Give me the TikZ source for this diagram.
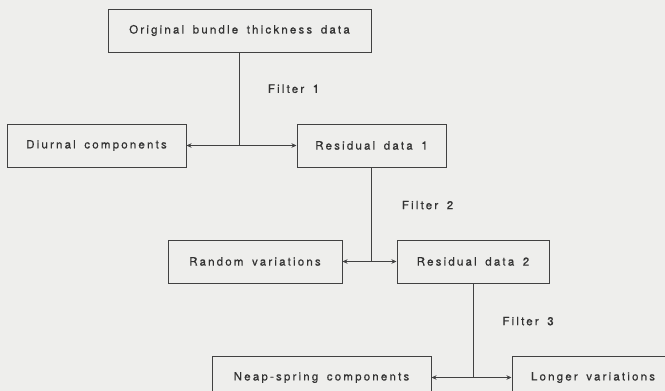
\documentclass[tikz,border=0pt]{standalone}
\usepackage{fontspec}
\newfontfamily\scanfont[LetterSpace=19, WordSpace=1.6, FakeBold=0.6]{TeX Gyre Heros}
\definecolor{InkGray}{RGB}{50, 50, 50}
\definecolor{LineGray}{RGB}{65, 65, 65}
\definecolor{PaperGray}{RGB}{238, 238, 236}
\usepackage{tikz}
\usetikzlibrary{arrows.meta, positioning}
\tikzset{
  box/.style={rectangle, draw=LineGray, line width=1pt, fill=PaperGray,
              minimum height=43pt, font=\fontsize{11.5}{13}\scanfont,
              text=InkGray, align=center},
  arr/.style={-{Stealth[length=5pt, width=4.5pt]}, line width=0.8pt, color=LineGray},
  lbl/.style={font=\fontsize{11.5}{13}\scanfont, text=InkGray, inner sep=1pt},
}
\begin{document}
\begin{tikzpicture}[x=1pt, y=1pt]

  %% page
  \clip (0,0) rectangle (665,-391);
  \fill[PaperGray] (0,0) rectangle (665,-391);

  %% ORIGINAL DATA
  \node[box, minimum width=263pt] (orig) at (239.5,-30.5)
       {Original bundle thickness data};

  %% FILTER 1
  \node[box, minimum width=149pt, below=71pt of orig, xshift=132pt] (res1)
       {Residual data 1};
  \node[box, minimum width=179pt, left=110pt of res1] (diurnal)
       {Diurnal components};

  \coordinate (j1) at (orig.south |- res1.west);
  \draw[line width=0.8pt, LineGray] (orig.south) --
       node[lbl, pos=0.39, right=27pt] {Filter 1} (j1);
  \draw[arr] (j1) -- (diurnal.east);
  \draw[arr] (j1) -- (res1.west);

  %% FILTER 2
  \node[box, minimum width=152pt, below=72pt of res1, xshift=101.5pt] (res2)
       {Residual data 2};
  \node[box, minimum width=174pt, left=54pt of res2] (random)
       {Random variations};

  \coordinate (j2) at (res1.south |- res2.west);
  \draw[line width=0.8pt, LineGray] (res1.south) --
       node[lbl, pos=0.40, right=29pt] {Filter 2} (j2);
  \draw[arr] (j2) -- (random.east);
  \draw[arr] (j2) -- (res2.west);

  %% FILTER 3
  \node[box, minimum width=162pt, below=72pt of res2, xshift=120pt] (longer)
       {Longer variations};
  \node[box, minimum width=219pt, left=80pt of longer] (neap)
       {Neap-spring components};

  \coordinate (j3) at (res2.south |- longer.west);
  \draw[line width=0.8pt, LineGray] (res2.south) --
       node[lbl, pos=0.40, right=28pt] {Filter 3} (j3);
  \draw[arr] (j3) -- (neap.east);
  \draw[arr] (j3) -- (longer.west);

\end{tikzpicture}
\end{document}
